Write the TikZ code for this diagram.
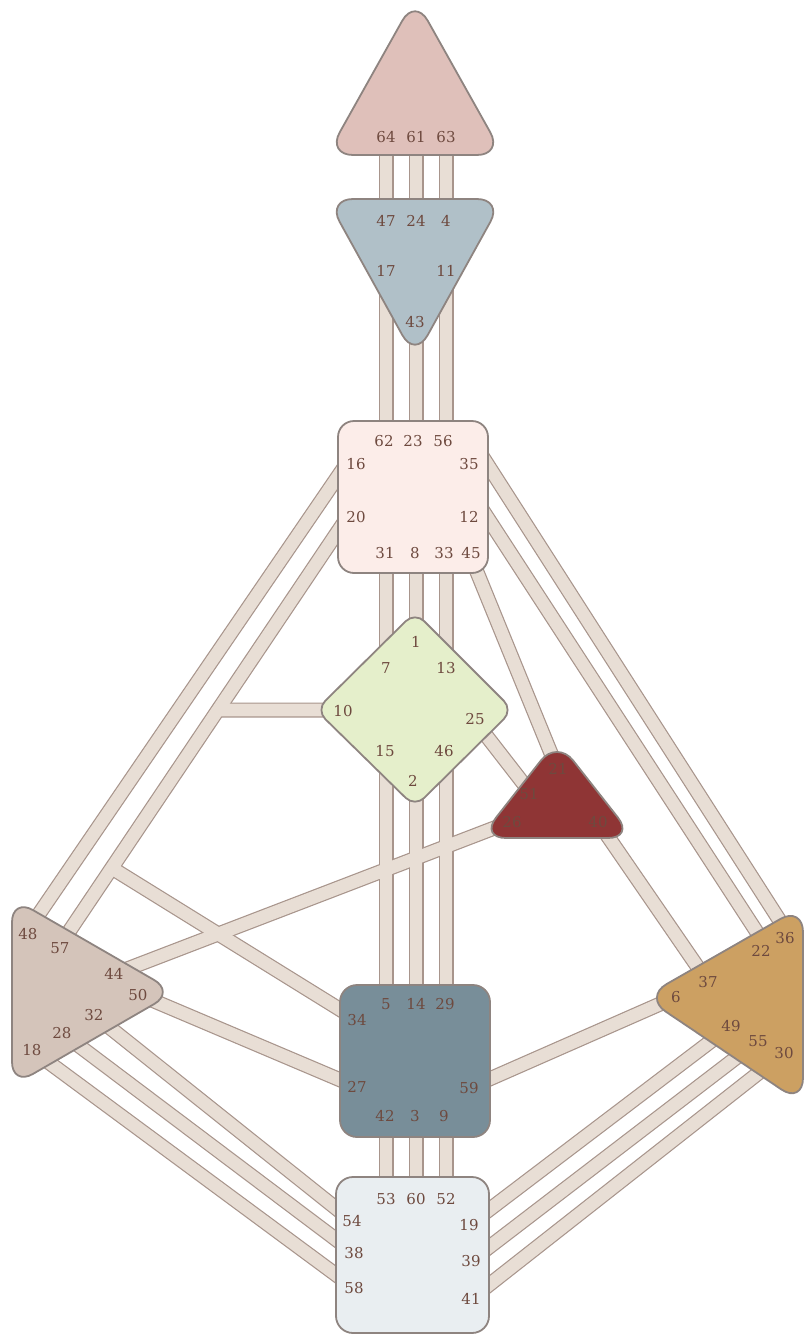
\documentclass[tikz,border=0pt]{standalone}
\usepackage{fontspec}
\setmainfont{DejaVu Serif}
\usetikzlibrary{calc}
\definecolor{ink}{HTML}{6E4A3F}
\definecolor{rim}{HTML}{8E8480}
\definecolor{chanline}{HTML}{A8958C}
\definecolor{chanbody}{HTML}{E8DED5}
\definecolor{headc}{HTML}{DFC0BA}
\definecolor{ajnac}{HTML}{B0C0C8}
\definecolor{throatc}{HTML}{FCEDE9}
\definecolor{gc}{HTML}{E5EFCB}
\definecolor{heartc}{HTML}{8F3535}
\definecolor{spleenc}{HTML}{D4C4BA}
\definecolor{sacralc}{HTML}{788E99}
\definecolor{solarc}{HTML}{CCA062}
\definecolor{rootc}{HTML}{E9EEF1}
\tikzset{
  hub/.style={draw=rim,line width=1.8pt,rounded corners=14pt},
  gate/.style={font=\fontsize{15}{16}\selectfont,text=ink,inner sep=0pt},
  chanrim/.style={draw=chanline,line width=15pt},
  chanfill/.style={draw=chanbody,line width=12.6pt},
}
\def\channels{p64/p47,p61/p24,p63/p4,p17/p62,p43/p23,p11/p56,
  p31/p7,p8/p1,p33/p13,p15/p5,p2/p14,p46/p29,p42/p53,p3/p60,p9/p52,
  p16/p48,p20/p57,j10/p10,j34/p34,p35/p36,p12/p22,p45/p21,p25/p51,
  p26/p44,p40/p37,p6/p59,p50/p27,p32/p54,p28/p38,p18/p58,
  p49/p19,p55/p39,p30/p41}

\begin{document}
\begin{tikzpicture}[x=1pt,y=-1pt]
  \useasboundingbox (0,0) rectangle (807,1341);
  \foreach \n/\x/\y in {64/386/140,61/416/140,63/446/140,
      47/386/215,24/416/215,4/446/215,17/386/275,43/416/320,11/446/275,
      62/386/445,23/416/445,56/446/445,16/358/447,20/359/500,35/475/445,12/476/500,
      31/386/555,8/416/555,33/446/555,45/468/550,
      1/416/640,7/386/668,13/446/668,10/340/710,25/478/725,15/386/751,46/446/751,2/416/780,
      21/557/768,51/530/792,26/510/822,40/600/825,
      48/28/930,57/60/945,44/114/974,50/140/995,32/94/1015,28/62/1033,18/32/1050,
      5/386/1000,14/416/1000,29/446/1000,34/357/1020,27/357/1087,59/469/1088,
      42/386/1116,3/416/1116,9/446/1116,
      36/787/932,22/762/940,37/708/982,6/676/997,49/731/1026,55/758/1041,30/784/1053,
      53/386/1199,60/416/1199,52/446/1199,54/352/1221,38/354/1253,58/354/1288,
      19/469/1225,39/471/1261,41/471/1299}
    \coordinate (p\n) at (\x,\y);
  \coordinate (j10) at ($(p20)!0.472!(p57)$);
  \coordinate (j34) at ($(p20)!0.827!(p57)$);

  \foreach \a/\b in \channels \draw[chanrim] (\a) -- (\b);
  \foreach \a/\b in \channels \draw[chanfill] (\a) -- (\b);

  \draw[hub,fill=headc,rounded corners=26pt] (415,-2) -- (503,155) -- (327,155) -- cycle;
  \draw[hub,fill=ajnac,rounded corners=26pt] (327,199) -- (503,199) -- (415,358) -- cycle;
  \draw[hub,fill=throatc,rounded corners=16pt] (338,421) rectangle (488,573);
  \draw[hub,fill=gc,rounded corners=13pt] (415,612) -- (513,710) -- (415,807) -- (316,710) -- cycle;
  \draw[hub,fill=heartc,rounded corners=26pt] (557,740) -- (634,838) -- (480,838) -- cycle;
  \draw[hub,fill=spleenc,rounded corners=24pt] (12,898) -- (175,992) -- (12,1086) -- cycle;
  \draw[hub,fill=sacralc,rounded corners=17pt] (340,985) rectangle (490,1137);
  \draw[hub,fill=solarc,rounded corners=26pt] (803,906) -- (803,1104) -- (644,997) -- cycle;
  \draw[hub,fill=rootc,rounded corners=17pt] (336,1177) rectangle (489,1333);

  \foreach \g/\x/\y in {64/386/137,61/416/137,63/446/137,
      47/386/221,24/416/221,4/446/221,17/386/271,11/446/271,43/415/322,
      62/384/441,23/413/441,56/443/441,16/356/464,35/469/464,20/356/517,12/469/517,
      31/385/553,8/415/553,33/444/553,45/471/553,
      1/416/642,7/386/668,13/446/668,10/343/711,25/475/719,15/385/751,46/444/751,2/413/781,
      21/558/769,51/529/794,26/512/822,40/598/822,
      48/28/934,57/60/948,44/114/974,50/138/995,32/94/1015,28/62/1033,18/32/1050,
      5/386/1004,14/416/1004,29/445/1004,34/357/1020,27/357/1087,59/469/1088,
      42/385/1116,3/415/1116,9/444/1116,
      36/785/938,22/761/951,37/708/982,6/676/997,49/731/1026,55/758/1041,30/784/1053,
      53/386/1199,60/416/1199,52/446/1199,54/352/1221,19/469/1225,38/354/1253,
      39/471/1261,58/354/1288,41/471/1299}
    \node[gate] (g\g) at (\x,\y) {\g};
\end{tikzpicture}
\end{document}
